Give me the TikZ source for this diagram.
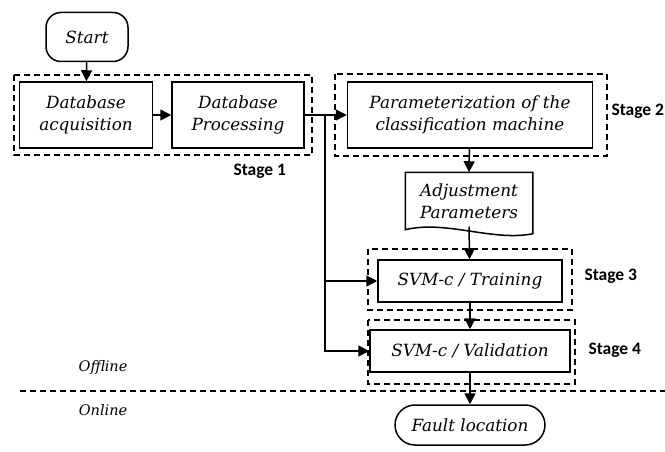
\documentclass[tikz,border=0pt]{standalone}
\usepackage{fontspec}
\setmainfont{DejaVu Serif}
\newfontfamily\stagefont{Carlito}
\usetikzlibrary{arrows.meta,positioning}
\tikzset{
  stepbox/.style={draw, line width=1.5pt, align=center, inner sep=1pt,
    font=\itshape\fontsize{16.8}{22}\selectfont},
  frame/.style={draw, line width=1.3pt, dash pattern=on 6pt off 4pt},
  flow/.style={line width=1.5pt, -{Triangle[length=11pt,width=11pt]}},
  stagelabel/.style={font=\stagefont\bfseries\fontsize{17.5}{20}\selectfont, anchor=west},
  sidelabel/.style={font=\itshape\fontsize{14.5}{17}\selectfont}
}
\begin{document}
\begin{tikzpicture}[x=1pt,y=-1pt]
	\useasboundingbox (0,0) rectangle (665,452);
	% stage frames
	\draw[frame] (14,75) rectangle (312,155);
	\draw[frame] (335,74) rectangle (607,156);
	\draw[frame] (368,249) rectangle (572,310);
	\draw[frame] (368,320) rectangle (575,384);
	\draw[frame] (20,391) -- (665,391);

	\node[stepbox, rounded corners=15pt, minimum width=82pt, minimum height=49pt] (start) at (87,37) {Start};
	\node[stepbox, minimum width=133pt, minimum height=66pt] (acq) at (86,115) {Database\\acquisition};
	\node[stepbox, minimum width=132pt, minimum height=66pt] (proc) at (238,115) {Database\\Processing};
	\node[stepbox, minimum width=245pt, minimum height=66pt] (param) at (470,115) {Parameterization of the\\classification machine};
	\node[stepbox, draw=none, minimum width=126pt, minimum height=56pt] (adjust) at (469,201) {Adjustment\\Parameters};
	\draw[line width=1.5pt] (adjust.south west) -- (adjust.north west) -- (adjust.north east) -- ([yshift=-4pt]adjust.south east)
		.. controls ([xshift=-40pt,yshift=-12pt]adjust.south east) and ([xshift=40pt,yshift=10pt]adjust.south west) .. (adjust.south west) -- cycle;
	\node[stepbox, minimum width=184pt, minimum height=42pt] (train) at (470,281) {SVM-c / Training};
	\node[stepbox, minimum width=200pt, minimum height=42pt] (valid) at (470,351) {SVM-c / Validation};
	\node[stepbox, rounded corners=20pt, minimum width=150pt, minimum height=40pt] (fault) at (470,425) {Fault location};

	\node[stagelabel] (s1) at (230,171) {Stage 1};
	\node[stagelabel] (s2) at (608,111) {Stage 2};
	\node[stagelabel] (s3) at (581,276) {Stage 3};
	\node[stagelabel] (s4) at (585,350) {Stage 4};
	\node[sidelabel] (off) at (103,367) {Offline};
	\node[sidelabel] (on) at (103,410) {Online};

	% connectors
	\coordinate (split) at (325,115);
	\draw[flow] (start) -- (acq);
	\draw[flow] (acq) -- (proc);
	\draw[line width=1.5pt] (proc) -- (split);
	\draw[flow] (split) -- (param);
	\draw[flow] (param) -- (adjust.north);
	\draw[flow] ([yshift=3pt]adjust.south) -- (train);
	\draw[flow] (train) -- (valid);
	\draw[flow] (valid) -- (fault);
	\draw[flow] (split) |- (train.west);
	\draw[flow] (split) |- (valid.west);
\end{tikzpicture}
\end{document}
